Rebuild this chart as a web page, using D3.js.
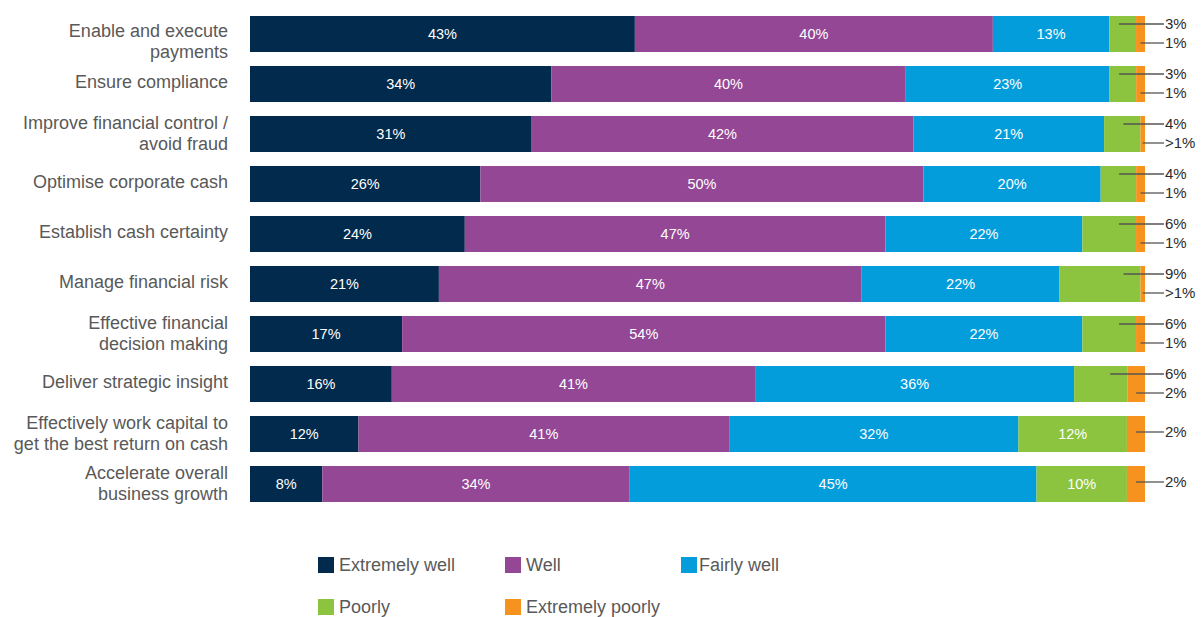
<!DOCTYPE html>
<html>
<head>
<meta charset="utf-8">
<script src="https://cdn.jsdelivr.net/npm/d3@7"></script>
<style>
  body { margin: 0; background: #fff; }
  svg text { font-family: "Liberation Sans", Arial, Helvetica, sans-serif; }
</style>
</head>
<body>
<svg id="canvas" width="1201" height="617"></svg>
<script>
// categories (each label line separated by "|")
var categories = [
    "Enable and execute|payments",
    "Ensure compliance",
    "Improve financial control /|avoid fraud",
    "Optimise corporate cash",
    "Establish cash certainty",
    "Manage financial risk",
    "Effective financial|decision making",
    "Deliver strategic insight",
    "Effectively work capital to|get the best return on cash",
    "Accelerate overall|business growth"
];

var seriesNames = ["Extremely well", "Well", "Fairly well", "Poorly", "Extremely poorly"];
var seriesColors = ["#022a4d", "#944795", "#049ddb", "#8cc43f", "#f6921e"];

var extremelyWell   = [43, 34, 31, 26, 24, 21, 17, 16, 12, 8];
var well            = [40, 40, 42, 50, 47, 47, 54, 41, 41, 34];
var fairlyWell      = [13, 23, 21, 20, 22, 22, 22, 36, 32, 45];
var poorly          = [3, 3, 4, 4, 6, 9, 6, 6, 12, 10];
var extremelyPoorly = [1, 1, 0.5, 1, 1, 0.5, 1, 2, 2, 2];
// shown text for the last series (">1%" where the value is under 1)
var extremelyPoorlyLabels = ["1%", "1%", ">1%", "1%", "1%", ">1%", "1%", "2%", "2%", "2%"];

var rows = categories.map(function(c, i) {
    return {
        cat: c,
        "Extremely well": extremelyWell[i],
        "Well": well[i],
        "Fairly well": fairlyWell[i],
        "Poorly": poorly[i],
        "Extremely poorly": extremelyPoorly[i]
    };
});

var svg = d3.select("#canvas");

var x = d3.scaleLinear().domain([0, 1]).range([250, 1145]);
var y = d3.scaleBand()
    .domain(categories)
    .range([9, 509])
    .paddingInner(0.28)
    .paddingOuter(0.14);

var color = d3.scaleOrdinal().domain(seriesNames).range(seriesColors);

var stacked = d3.stack()
    .keys(seriesNames)
    .offset(d3.stackOffsetExpand)(rows);

// bars
var layers = svg.append("g").selectAll("g")
    .data(stacked)
    .enter().append("g")
    .attr("fill", function(d) { return color(d.key); });

layers.selectAll("rect")
    .data(function(d) { return d; })
    .enter().append("rect")
    .attr("x", function(d) { return x(d[0]); })
    .attr("y", function(d) { return y(d.data.cat); })
    .attr("width", function(d) { return x(d[1]) - x(d[0]); })
    .attr("height", y.bandwidth());

// labels inside segments
stacked.forEach(function(layer) {
    layer.forEach(function(d) {
        var v = d.data[layer.key];
        if (v < 10 && layer.key !== "Extremely well") return;
        svg.append("text")
            .attr("x", (x(d[0]) + x(d[1])) / 2)
            .attr("y", y(d.data.cat) + y.bandwidth() / 2)
            .attr("dy", "0.35em")
            .attr("text-anchor", "middle")
            .attr("fill", "#fff")
            .style("font-size", "14.5px")
            .text(v + "%");
    });
});

// outside labels with leader lines for the small segments
var poorLayer = stacked[3], xpoorLayer = stacked[4];
var textX = 1165;
categories.forEach(function(c, i) {
    var cy = y(c) + y.bandwidth() / 2;
    var p = poorLayer[i], e = xpoorLayer[i];
    var callouts = [];
    if (poorly[i] < 10) {
        callouts.push({start: Math.max(x(p[0]) + 2, x(p[1]) - 17), text: poorly[i] + "%"});
    }
    callouts.push({start: (x(e[0]) + x(e[1])) / 2, text: extremelyPoorlyLabels[i]});
    var offsets = callouts.length === 2 ? [-10, 9] : [-2];
    callouts.forEach(function(co, k) {
        var ly = cy + offsets[k];
        svg.append("line")
            .attr("x1", co.start)
            .attr("x2", textX - 1)
            .attr("y1", ly)
            .attr("y2", ly)
            .attr("stroke", "#555")
            .attr("stroke-width", 1.3);
        svg.append("text")
            .attr("x", textX)
            .attr("y", ly)
            .attr("dy", "0.35em")
            .attr("fill", "#2b2b2b")
            .style("font-size", "15px")
            .text(co.text);
    });
});

// category labels
categories.forEach(function(c, i) {
    var lines = c.split("|");
    var cy = y(c) + y.bandwidth() / 2;
    var offs = lines.length === 2 ? (i === 0 ? [-3, 18] : [-11, 10]) : [-2];
    lines.forEach(function(line, k) {
        svg.append("text")
            .attr("x", 228)
            .attr("y", cy + offs[k])
            .attr("dy", "0.35em")
            .attr("text-anchor", "end")
            .attr("fill", "#595959")
            .style("font-size", "18px")
            .text(line);
    });
});

// legend
var legendPos = [[318, 557], [505, 557], [681, 557], [318, 599], [505, 599]];
var legend = svg.append("g");
seriesNames.forEach(function(name, i) {
    legend.append("rect")
        .attr("x", legendPos[i][0])
        .attr("y", legendPos[i][1])
        .attr("width", 16)
        .attr("height", 16)
        .attr("fill", color(name));
    legend.append("text")
        .attr("x", legendPos[i][0] + (i === 2 ? 18 : 21))
        .attr("y", legendPos[i][1] + 8)
        .attr("dy", "0.35em")
        .attr("fill", "#595959")
        .style("font-size", "18px")
        .text(name);
});
</script>
</body>
</html>
